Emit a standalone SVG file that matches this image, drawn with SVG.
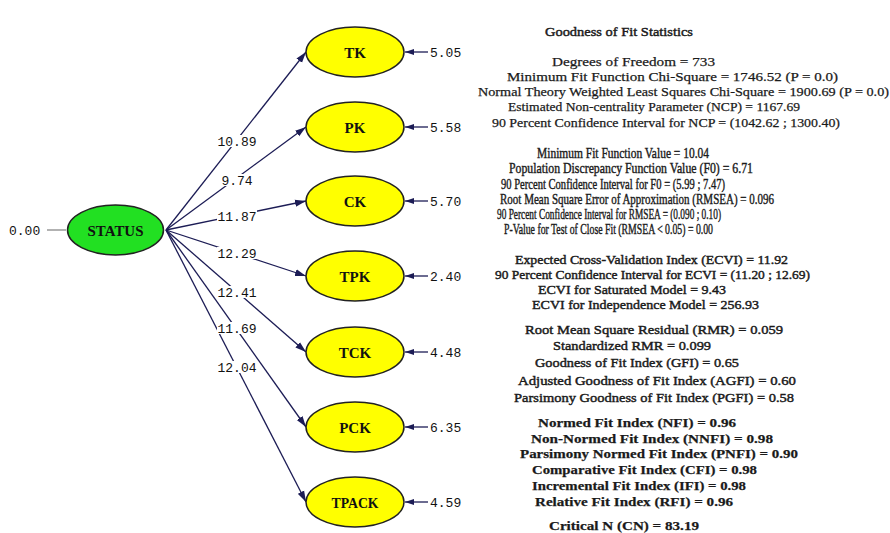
<svg xmlns="http://www.w3.org/2000/svg" width="890" height="533" viewBox="0 0 890 533">
<defs>
<marker id="ah" markerUnits="userSpaceOnUse" markerWidth="12" markerHeight="8" refX="11" refY="4" orient="auto">
<path d="M0,0.5 L11,4 L0,7.5 Z" fill="#1c1c55"/>
</marker>
<marker id="eh" markerUnits="userSpaceOnUse" markerWidth="10" markerHeight="7" refX="9" refY="3.5" orient="auto">
<path d="M0,0.5 L9,3.5 L0,6.5 Z" fill="#1c1c55"/>
</marker>
</defs>
<style>
.obs ellipse{fill:#FFFF00;stroke:#222;stroke-width:1.5}
.lat ellipse{fill:#22E022;stroke:#222;stroke-width:1.5}
.nlab{font-family:"Liberation Serif",serif;font-size:15px;font-weight:bold;text-anchor:middle;fill:#111}
.num{font-family:"Liberation Mono",monospace;font-size:13px;fill:#111}
.mid{text-anchor:middle}
.path{stroke:#1c1c55;stroke-width:1.3;fill:none;marker-end:url(#ah)}
.err{stroke:#1c1c55;stroke-width:1.3;fill:none;marker-end:url(#eh)}
.lbg{fill:#fff}
.st text{font-family:"Liberation Serif",serif;font-size:13.5px;fill:#1a1a1a;stroke:#1a1a1a;stroke-width:0.25}
.st .s{font-size:14.5px;stroke-width:0.4}
.st .b{stroke-width:0.45}
</style>
<rect width="890" height="533" fill="#fff"/>

<g id="connectors">
<line class="path" x1="166" y1="230" x2="306" y2="52"/>
<line class="path" x1="166" y1="230" x2="306" y2="127"/>
<line class="path" x1="166" y1="230" x2="306" y2="201"/>
<line class="path" x1="166" y1="230" x2="306" y2="276"/>
<line class="path" x1="166" y1="230" x2="306" y2="352"/>
<line class="path" x1="166" y1="230" x2="306" y2="427"/>
<line class="path" x1="166" y1="230" x2="306" y2="502"/>
<line x1="47" y1="230" x2="66" y2="230" stroke="#888" stroke-width="1.3"/>
<line class="err" x1="428" y1="52" x2="405" y2="52"/>
<line class="err" x1="428" y1="127" x2="405" y2="127"/>
<line class="err" x1="428" y1="201" x2="405" y2="201"/>
<line class="err" x1="428" y1="276" x2="405" y2="276"/>
<line class="err" x1="428" y1="352" x2="405" y2="352"/>
<line class="err" x1="428" y1="427" x2="405" y2="427"/>
<line class="err" x1="428" y1="502" x2="405" y2="502"/>
<g id="path-labels">
<rect class="lbg" x="217" y="135" width="40" height="12"/><text class="num mid" x="237" y="145.5">10.89</text>
<rect class="lbg" x="221" y="174" width="32" height="12"/><text class="num mid" x="237" y="184.5">9.74</text>
<rect class="lbg" x="217" y="210" width="40" height="12"/><text class="num mid" x="237" y="220.5">11.87</text>
<rect class="lbg" x="217" y="247" width="40" height="12"/><text class="num mid" x="237" y="257.5">12.29</text>
<rect class="lbg" x="217" y="286" width="40" height="12"/><text class="num mid" x="237" y="296.5">12.41</text>
<rect class="lbg" x="217" y="322" width="40" height="12"/><text class="num mid" x="237" y="332.5">11.69</text>
<rect class="lbg" x="217" y="361" width="40" height="12"/><text class="num mid" x="237" y="371.5">12.04</text>
</g>
</g>

<g id="STATUS" class="lat">
<ellipse cx="115.5" cy="230" rx="48" ry="25"/>
<text class="nlab" x="115.5" y="235.5" textLength="56" lengthAdjust="spacingAndGlyphs">STATUS</text>
<text class="num" x="9" y="234.5">0.00</text>
</g>
<g id="TK" class="obs"><ellipse cx="355" cy="52" rx="49" ry="25"/><text class="nlab" x="355" y="57.5">TK</text><text class="num" x="430" y="56.5">5.05</text></g>
<g id="PK" class="obs"><ellipse cx="355" cy="127" rx="49" ry="25"/><text class="nlab" x="355" y="132.5">PK</text><text class="num" x="430" y="131.5">5.58</text></g>
<g id="CK" class="obs"><ellipse cx="355" cy="201" rx="49" ry="25"/><text class="nlab" x="355" y="206.5">CK</text><text class="num" x="430" y="205.5">5.70</text></g>
<g id="TPK" class="obs"><ellipse cx="355" cy="276" rx="49" ry="25"/><text class="nlab" x="355" y="281.5">TPK</text><text class="num" x="430" y="280.5">2.40</text></g>
<g id="TCK" class="obs"><ellipse cx="355" cy="352" rx="49" ry="25"/><text class="nlab" x="355" y="357.5">TCK</text><text class="num" x="430" y="356.5">4.48</text></g>
<g id="PCK" class="obs"><ellipse cx="355" cy="427" rx="49" ry="25"/><text class="nlab" x="355" y="432.5">PCK</text><text class="num" x="430" y="431.5">6.35</text></g>
<g id="TPACK" class="obs"><ellipse cx="355" cy="502" rx="49" ry="25"/><text class="nlab" x="355" y="507.5" textLength="47" lengthAdjust="spacingAndGlyphs">TPACK</text><text class="num" x="430" y="506.5">4.59</text></g>

<g id="stats" class="st">
<text x="545" y="35.5" textLength="148" lengthAdjust="spacingAndGlyphs" class="b">Goodness of Fit Statistics</text>
<text x="552" y="66" textLength="163" lengthAdjust="spacingAndGlyphs">Degrees of Freedom = 733</text>
<text x="507" y="81" textLength="331" lengthAdjust="spacingAndGlyphs">Minimum Fit Function Chi-Square = 1746.52 (P = 0.0)</text>
<text x="478" y="96" textLength="411" lengthAdjust="spacingAndGlyphs">Normal Theory Weighted Least Squares Chi-Square = 1900.69 (P = 0.0)</text>
<text x="508" y="111" textLength="292" lengthAdjust="spacingAndGlyphs">Estimated Non-centrality Parameter (NCP) = 1167.69</text>
<text x="492" y="126.5" textLength="348" lengthAdjust="spacingAndGlyphs">90 Percent Confidence Interval for NCP = (1042.62 ; 1300.40)</text>

<text class="s" x="537" y="157.5" textLength="172" lengthAdjust="spacingAndGlyphs">Minimum Fit Function Value = 10.04</text>
<text class="s" x="509" y="172.5" textLength="244" lengthAdjust="spacingAndGlyphs">Population Discrepancy Function Value (F0) = 6.71</text>
<text class="s" x="501" y="188.5" textLength="224" lengthAdjust="spacingAndGlyphs">90 Percent Confidence Interval for F0 = (5.99 ; 7.47)</text>
<text class="s" x="500" y="203.5" textLength="274" lengthAdjust="spacingAndGlyphs">Root Mean Square Error of Approximation (RMSEA) = 0.096</text>
<text class="s" x="497" y="218.5" textLength="224" lengthAdjust="spacingAndGlyphs">90 Percent Confidence Interval for RMSEA = (0.090 ; 0.10)</text>
<text class="s" x="504" y="233.5" textLength="209" lengthAdjust="spacingAndGlyphs">P-Value for Test of Close Fit (RMSEA &lt; 0.05) = 0.00</text>

<text x="515" y="263.5" textLength="273" lengthAdjust="spacingAndGlyphs" class="b">Expected Cross-Validation Index (ECVI) = 11.92</text>
<text x="495" y="278.5" textLength="315" lengthAdjust="spacingAndGlyphs" class="b">90 Percent Confidence Interval for ECVI = (11.20 ; 12.69)</text>
<text x="538" y="293.5" textLength="188" lengthAdjust="spacingAndGlyphs" class="b">ECVI for Saturated Model = 9.43</text>
<text x="532" y="308.5" textLength="227" lengthAdjust="spacingAndGlyphs" class="b">ECVI for Independence Model = 256.93</text>

<text x="525" y="333.5" textLength="258" lengthAdjust="spacingAndGlyphs" class="b">Root Mean Square Residual (RMR) = 0.059</text>
<text x="553" y="349.5" textLength="158" lengthAdjust="spacingAndGlyphs" class="b">Standardized RMR = 0.099</text>
<text x="535" y="366.5" textLength="204" lengthAdjust="spacingAndGlyphs" class="b">Goodness of Fit Index (GFI) = 0.65</text>
<text x="518" y="384.5" textLength="278" lengthAdjust="spacingAndGlyphs" class="b">Adjusted Goodness of Fit Index (AGFI) = 0.60</text>
<text x="514" y="401.5" textLength="280" lengthAdjust="spacingAndGlyphs" class="b">Parsimony Goodness of Fit Index (PGFI) = 0.58</text>

<text x="538" y="426.5" textLength="198" lengthAdjust="spacingAndGlyphs" font-weight="bold">Normed Fit Index (NFI) = 0.96</text>
<text x="531" y="442.5" textLength="242" lengthAdjust="spacingAndGlyphs" font-weight="bold">Non-Normed Fit Index (NNFI) = 0.98</text>
<text x="520" y="457.5" textLength="278" lengthAdjust="spacingAndGlyphs" font-weight="bold">Parsimony Normed Fit Index (PNFI) = 0.90</text>
<text x="532" y="473.5" textLength="225" lengthAdjust="spacingAndGlyphs" font-weight="bold">Comparative Fit Index (CFI) = 0.98</text>
<text x="532" y="489.5" textLength="214" lengthAdjust="spacingAndGlyphs" font-weight="bold">Incremental Fit Index (IFI) = 0.98</text>
<text x="535" y="505.5" textLength="198" lengthAdjust="spacingAndGlyphs" font-weight="bold">Relative Fit Index (RFI) = 0.96</text>

<text x="549" y="529.5" textLength="150" lengthAdjust="spacingAndGlyphs" font-weight="bold">Critical N (CN) = 83.19</text>
</g>
</svg>
